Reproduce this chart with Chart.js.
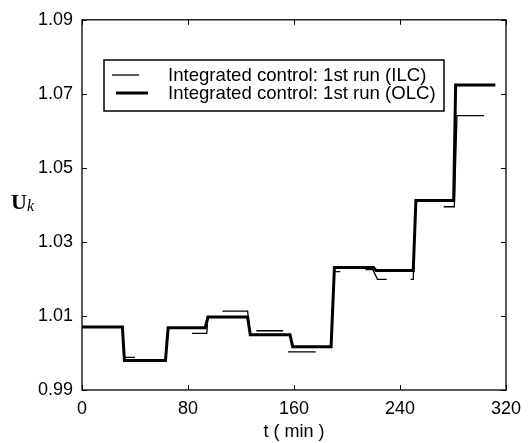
<!DOCTYPE html>
<html>
<head>
<meta charset="utf-8">
<script src="https://cdn.jsdelivr.net/npm/chart.js@4/dist/chart.umd.min.js"></script>
<style>
html,body{margin:0;padding:0;background:#fff;}
#wrap{width:529px;height:443px;position:relative;}
</style>
</head>
<body>
<div id="wrap"><canvas id="c" width="529" height="443"></canvas></div>
<script>
// ---- data ----
const xTicks = [0, 80, 160, 240, 320];
const yTicks = [0.99, 1.01, 1.03, 1.05, 1.07, 1.09];

const labelILC = "Integrated control: 1st run (ILC)";
const labelOLC = "Integrated control: 1st run (OLC)";

// OLC (thick line)
const tOLC = [0, 30.5, 32, 63, 65, 93, 95, 125, 127, 157, 159, 188, 190.5, 220, 222, 250, 252, 280.5, 282, 312];
const uOLC = [1.007, 1.007, 0.998, 0.998, 1.0068, 1.0068, 1.0097, 1.0097, 1.0049, 1.0049, 1.0017, 1.0017, 1.0231, 1.0231, 1.0223, 1.0223, 1.0412, 1.0412, 1.0724, 1.0724];

// ILC (thin line); null separates pieces
const tILC = [0, 30.5, 32, 40, 40,
              83, 94.2, 95, 95,
              106, 125, 127, 127,
              131.6, 151.8, 151.8,
              155.5, 176.4, 176.4,
              190.6, 195, 195,
              214, 219.5, 223, 230, 230,
              248, 250, 252, 252,
              273, 281, 283, 303.5];
const uILC = [1.007, 1.007, 0.9988, 0.9988, null,
              1.0053, 1.0053, 1.0097, null,
              1.0113, 1.0113, 1.0049, null,
              1.006, 1.006, null,
              1.0003, 1.0003, null,
              1.022, 1.022, null,
              1.0225, 1.0225, 1.0199, 1.0199, null,
              1.0199, 1.0199, 1.0412, null,
              1.0395, 1.0395, 1.0641, 1.0641];

const toPts = (ts, us) => ts.map((t, i) => ({x: t, y: us[i]}));

const FONT = "'Liberation Sans', Arial, sans-serif";

const framePlugin = {
  id: 'frame',
  afterDraw(chart) {
    const ctx = chart.ctx;
    const a = chart.chartArea;
    const xs = chart.scales.x, ys = chart.scales.y;
    ctx.save();
    ctx.strokeStyle = '#000';
    ctx.lineWidth = 1.3;
    ctx.strokeRect(a.left, a.top, a.right - a.left, a.bottom - a.top);
    const tl = 5;
    ctx.beginPath();
    yTicks.forEach(v => {
      const p = Math.round(ys.getPixelForValue(v)) + 0.5;
      ctx.moveTo(a.left, p); ctx.lineTo(a.left + tl, p);
      ctx.moveTo(a.right, p); ctx.lineTo(a.right - tl, p);
    });
    xTicks.forEach(v => {
      const p = Math.round(xs.getPixelForValue(v)) + 0.5;
      ctx.moveTo(p, a.bottom); ctx.lineTo(p, a.bottom - tl);
      ctx.moveTo(p, a.top); ctx.lineTo(p, a.top + tl);
    });
    ctx.lineWidth = 1;
    ctx.stroke();

    // legend box
    const lx = 104, ly = 60, lw = 340, lh = 51;
    ctx.fillStyle = '#fff';
    ctx.fillRect(lx, ly, lw, lh);
    ctx.lineWidth = 1.5;
    ctx.strokeRect(lx, ly, lw, lh);
    const ds = chart.data.datasets;
    const rows = [ds[1], ds[0]];
    const rowY = [76, 94];
    const seg = [[112, 139], [116, 148]];
    rows.forEach((d, i) => {
      ctx.beginPath();
      ctx.lineWidth = d.borderWidth;
      ctx.strokeStyle = d.borderColor;
      ctx.moveTo(seg[i][0], rowY[i] - 1); ctx.lineTo(seg[i][1], rowY[i] - 1);
      ctx.stroke();
      ctx.fillStyle = '#000';
      ctx.font = "18.6px " + FONT;
      ctx.textBaseline = 'middle';
      ctx.textAlign = 'left';
      ctx.fillText(d.label, 168, rowY[i]);
    });

    // y label U_k
    ctx.fillStyle = '#000';
    ctx.textBaseline = 'alphabetic';
    ctx.font = "bold 22px 'Liberation Serif', 'Times New Roman', serif";
    ctx.fillText('U', 11, 209);
    const uw = ctx.measureText('U').width;
    ctx.font = "italic 16px 'Liberation Serif', 'Times New Roman', serif";
    ctx.fillText('k', 11 + uw, 211);
    ctx.restore();
  }
};

new Chart(document.getElementById('c'), {
  type: 'line',
  data: {
    datasets: [
      {label: labelOLC, data: toPts(tOLC, uOLC), borderColor: '#000', borderWidth: 3,
       pointRadius: 0, fill: false, tension: 0, spanGaps: false},
      {label: labelILC, data: toPts(tILC, uILC), borderColor: '#000', borderWidth: 1.3,
       pointRadius: 0, fill: false, tension: 0, spanGaps: false}
    ]
  },
  options: {
    responsive: false,
    animation: false,
    events: [],
    layout: {padding: {left: 0, right: 19, top: 17, bottom: 0}},
    plugins: {legend: {display: false}, tooltip: {enabled: false}},
    scales: {
      x: {
        type: 'linear', min: 0, max: 320,
        afterBuildTicks: s => { s.ticks = xTicks.map(v => ({value: v})); },
        afterFit: s => { s.height = 53; },
        grid: {display: false, drawTicks: false},
        border: {display: false},
        ticks: {padding: 8, color: '#000', font: {family: FONT, size: 18}, maxRotation: 0,
                callback: v => String(v)},
        title: {display: true, text: 't ( min )', color: '#000',
                font: {family: FONT, size: 18}, padding: {top: 0, bottom: 0}}
      },
      y: {
        type: 'linear', min: 0.99, max: 1.09,
        afterBuildTicks: s => { s.ticks = yTicks.map(v => ({value: v})); },
        afterFit: s => { s.width = 82; },
        grid: {display: false, drawTicks: false},
        border: {display: false},
        ticks: {padding: 9, color: '#000', font: {family: FONT, size: 18},
                callback: v => Number(v).toFixed(2)}
      }
    }
  },
  plugins: [framePlugin]
});
</script>
</body>
</html>
